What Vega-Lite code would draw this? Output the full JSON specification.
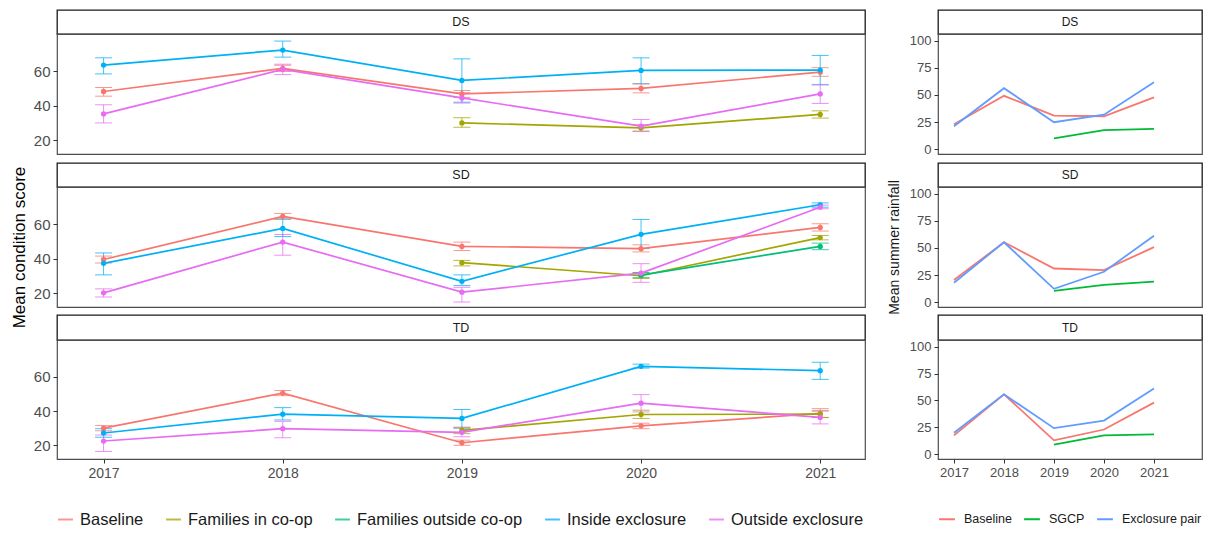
{
  "$schema": "https://vega.github.io/schema/vega-lite/v6.json",
  "padding": {"left": 9, "top": 9, "right": 4, "bottom": 4},
  "background": "#ffffff",
  "datasets": {
    "cond": [
      {"site": "DS", "group": "Baseline", "year": 2017, "mean": 48.2, "lo": 45.5, "hi": 50.5},
      {"site": "DS", "group": "Baseline", "year": 2018, "mean": 61.6, "lo": 59.8, "hi": 63.4},
      {"site": "DS", "group": "Baseline", "year": 2019, "mean": 46.8, "lo": 44.8, "hi": 48.8},
      {"site": "DS", "group": "Baseline", "year": 2020, "mean": 50.0, "lo": 47.4, "hi": 52.6},
      {"site": "DS", "group": "Baseline", "year": 2021, "mean": 59.4, "lo": 57.0, "hi": 62.0},
      {"site": "DS", "group": "Families in co-op", "year": 2019, "mean": 30.0, "lo": 27.5, "hi": 33.0},
      {"site": "DS", "group": "Families in co-op", "year": 2020, "mean": 27.1, "lo": 25.3, "hi": 28.9},
      {"site": "DS", "group": "Families in co-op", "year": 2021, "mean": 34.9, "lo": 32.8, "hi": 37.0},
      {"site": "DS", "group": "Inside exclosure", "year": 2017, "mean": 63.5, "lo": 58.4, "hi": 67.7},
      {"site": "DS", "group": "Inside exclosure", "year": 2018, "mean": 72.2, "lo": 68.1, "hi": 77.4},
      {"site": "DS", "group": "Inside exclosure", "year": 2019, "mean": 54.6, "lo": 42.0, "hi": 67.1},
      {"site": "DS", "group": "Inside exclosure", "year": 2020, "mean": 60.4, "lo": 52.7, "hi": 67.7},
      {"site": "DS", "group": "Inside exclosure", "year": 2021, "mean": 60.6, "lo": 52.0, "hi": 69.1},
      {"site": "DS", "group": "Outside exclosure", "year": 2017, "mean": 35.2, "lo": 30.0, "hi": 40.5},
      {"site": "DS", "group": "Outside exclosure", "year": 2018, "mean": 61.0, "lo": 58.0, "hi": 64.0},
      {"site": "DS", "group": "Outside exclosure", "year": 2019, "mean": 44.5, "lo": 41.5, "hi": 47.5},
      {"site": "DS", "group": "Outside exclosure", "year": 2020, "mean": 28.1, "lo": 25.0, "hi": 32.0},
      {"site": "DS", "group": "Outside exclosure", "year": 2021, "mean": 46.8, "lo": 41.3, "hi": 52.3},
      {"site": "SD", "group": "Baseline", "year": 2017, "mean": 39.5, "lo": 37.5, "hi": 41.5},
      {"site": "SD", "group": "Baseline", "year": 2018, "mean": 64.5, "lo": 62.8, "hi": 66.2},
      {"site": "SD", "group": "Baseline", "year": 2019, "mean": 47.1, "lo": 44.7, "hi": 49.6},
      {"site": "SD", "group": "Baseline", "year": 2020, "mean": 45.8, "lo": 43.9, "hi": 48.0},
      {"site": "SD", "group": "Baseline", "year": 2021, "mean": 58.1, "lo": 56.0, "hi": 60.2},
      {"site": "SD", "group": "Families in co-op", "year": 2019, "mean": 37.7, "lo": 35.8, "hi": 39.0},
      {"site": "SD", "group": "Families in co-op", "year": 2020, "mean": 30.1, "lo": 28.5, "hi": 31.7},
      {"site": "SD", "group": "Families in co-op", "year": 2021, "mean": 52.2, "lo": 50.9, "hi": 53.4},
      {"site": "SD", "group": "Families outside co-op", "year": 2020, "mean": 30.5, "lo": 29.0, "hi": 32.0},
      {"site": "SD", "group": "Families outside co-op", "year": 2021, "mean": 47.1, "lo": 45.2, "hi": 49.0},
      {"site": "SD", "group": "Inside exclosure", "year": 2017, "mean": 37.3, "lo": 30.6, "hi": 43.3},
      {"site": "SD", "group": "Inside exclosure", "year": 2018, "mean": 57.5, "lo": 52.8, "hi": 63.0},
      {"site": "SD", "group": "Inside exclosure", "year": 2019, "mean": 26.9, "lo": 24.4, "hi": 30.6},
      {"site": "SD", "group": "Inside exclosure", "year": 2020, "mean": 54.1, "lo": 45.8, "hi": 62.7},
      {"site": "SD", "group": "Inside exclosure", "year": 2021, "mean": 71.2, "lo": 69.8, "hi": 72.3},
      {"site": "SD", "group": "Outside exclosure", "year": 2017, "mean": 20.2, "lo": 17.8, "hi": 22.5},
      {"site": "SD", "group": "Outside exclosure", "year": 2018, "mean": 49.6, "lo": 42.0, "hi": 54.0},
      {"site": "SD", "group": "Outside exclosure", "year": 2019, "mean": 20.6, "lo": 14.9, "hi": 23.4},
      {"site": "SD", "group": "Outside exclosure", "year": 2020, "mean": 31.6, "lo": 26.3, "hi": 37.1},
      {"site": "SD", "group": "Outside exclosure", "year": 2021, "mean": 69.8, "lo": 68.9, "hi": 71.0},
      {"site": "TD", "group": "Baseline", "year": 2017, "mean": 30.0, "lo": 28.5, "hi": 31.5},
      {"site": "TD", "group": "Baseline", "year": 2018, "mean": 50.5, "lo": 49.0, "hi": 52.0},
      {"site": "TD", "group": "Baseline", "year": 2019, "mean": 21.5, "lo": 20.0, "hi": 23.0},
      {"site": "TD", "group": "Baseline", "year": 2020, "mean": 31.4, "lo": 29.7, "hi": 32.9},
      {"site": "TD", "group": "Baseline", "year": 2021, "mean": 38.6, "lo": 36.3, "hi": 41.4},
      {"site": "TD", "group": "Families in co-op", "year": 2019, "mean": 28.7, "lo": 26.8, "hi": 30.6},
      {"site": "TD", "group": "Families in co-op", "year": 2020, "mean": 38.0, "lo": 35.7, "hi": 40.5},
      {"site": "TD", "group": "Families in co-op", "year": 2021, "mean": 38.2, "lo": 36.2, "hi": 40.2},
      {"site": "TD", "group": "Inside exclosure", "year": 2017, "mean": 27.2, "lo": 24.7, "hi": 29.7},
      {"site": "TD", "group": "Inside exclosure", "year": 2018, "mean": 38.2, "lo": 34.8, "hi": 42.0},
      {"site": "TD", "group": "Inside exclosure", "year": 2019, "mean": 35.7, "lo": 30.0, "hi": 40.9},
      {"site": "TD", "group": "Inside exclosure", "year": 2020, "mean": 66.1, "lo": 65.1, "hi": 67.4},
      {"site": "TD", "group": "Inside exclosure", "year": 2021, "mean": 63.6, "lo": 58.5, "hi": 68.5},
      {"site": "TD", "group": "Outside exclosure", "year": 2017, "mean": 22.5, "lo": 16.4, "hi": 26.0},
      {"site": "TD", "group": "Outside exclosure", "year": 2018, "mean": 29.7, "lo": 24.4, "hi": 34.0},
      {"site": "TD", "group": "Outside exclosure", "year": 2019, "mean": 27.6, "lo": 25.0, "hi": 30.2},
      {"site": "TD", "group": "Outside exclosure", "year": 2020, "mean": 44.6, "lo": 39.5, "hi": 49.6},
      {"site": "TD", "group": "Outside exclosure", "year": 2021, "mean": 36.3, "lo": 32.5, "hi": 40.0}
    ],
    "rain": [
      {"site": "DS", "group": "Baseline", "year": 2017, "value": 23.0},
      {"site": "DS", "group": "Baseline", "year": 2018, "value": 49.2},
      {"site": "DS", "group": "Baseline", "year": 2019, "value": 30.9},
      {"site": "DS", "group": "Baseline", "year": 2020, "value": 30.3},
      {"site": "DS", "group": "Baseline", "year": 2021, "value": 47.7},
      {"site": "DS", "group": "SGCP", "year": 2019, "value": 9.8},
      {"site": "DS", "group": "SGCP", "year": 2020, "value": 17.4},
      {"site": "DS", "group": "SGCP", "year": 2021, "value": 18.7},
      {"site": "DS", "group": "Exclosure pair", "year": 2017, "value": 21.1},
      {"site": "DS", "group": "Exclosure pair", "year": 2018, "value": 56.3},
      {"site": "DS", "group": "Exclosure pair", "year": 2019, "value": 24.8},
      {"site": "DS", "group": "Exclosure pair", "year": 2020, "value": 31.8},
      {"site": "DS", "group": "Exclosure pair", "year": 2021, "value": 61.8},
      {"site": "SD", "group": "Baseline", "year": 2017, "value": 20.4},
      {"site": "SD", "group": "Baseline", "year": 2018, "value": 55.3},
      {"site": "SD", "group": "Baseline", "year": 2019, "value": 31.0},
      {"site": "SD", "group": "Baseline", "year": 2020, "value": 29.5},
      {"site": "SD", "group": "Baseline", "year": 2021, "value": 50.8},
      {"site": "SD", "group": "SGCP", "year": 2019, "value": 10.3},
      {"site": "SD", "group": "SGCP", "year": 2020, "value": 15.8},
      {"site": "SD", "group": "SGCP", "year": 2021, "value": 18.8},
      {"site": "SD", "group": "Exclosure pair", "year": 2017, "value": 17.9},
      {"site": "SD", "group": "Exclosure pair", "year": 2018, "value": 55.3},
      {"site": "SD", "group": "Exclosure pair", "year": 2019, "value": 12.2},
      {"site": "SD", "group": "Exclosure pair", "year": 2020, "value": 28.0},
      {"site": "SD", "group": "Exclosure pair", "year": 2021, "value": 61.4},
      {"site": "TD", "group": "Baseline", "year": 2017, "value": 17.4},
      {"site": "TD", "group": "Baseline", "year": 2018, "value": 55.7},
      {"site": "TD", "group": "Baseline", "year": 2019, "value": 12.8},
      {"site": "TD", "group": "Baseline", "year": 2020, "value": 22.9},
      {"site": "TD", "group": "Baseline", "year": 2021, "value": 48.0},
      {"site": "TD", "group": "SGCP", "year": 2019, "value": 8.9},
      {"site": "TD", "group": "SGCP", "year": 2020, "value": 17.4},
      {"site": "TD", "group": "SGCP", "year": 2021, "value": 18.3},
      {"site": "TD", "group": "Exclosure pair", "year": 2017, "value": 19.9},
      {"site": "TD", "group": "Exclosure pair", "year": 2018, "value": 55.7},
      {"site": "TD", "group": "Exclosure pair", "year": 2019, "value": 24.2},
      {"site": "TD", "group": "Exclosure pair", "year": 2020, "value": 31.2},
      {"site": "TD", "group": "Exclosure pair", "year": 2021, "value": 61.2}
    ]
  },
  "hconcat": [
    {
      "spacing": 0,
      "bounds": "flush",
      "resolve": {"scale": {"x": "independent", "y": "independent"}},
      "vconcat": [
        {"width": 808, "height": 24, "data": {"values": [{"site": "DS"}]}, "view": {"stroke": "#1a1a1a", "strokeWidth": 1.3, "fill": "#ffffff"},
         "mark": {"type": "text", "fontSize": 12.5, "color": "#1a1a1a"}, "encoding": {"text": {"field": "site", "type": "nominal"}}},
        {"width": 808, "height": 120, "data": {"name": "cond"}, "transform": [{"filter": "datum.site === 'DS'"}],
         "view": {"stroke": "#4d4d4d", "strokeWidth": 1.2},
         "encoding": {
           "x": {"field": "year", "type": "quantitative", "scale": {"domain": [2016.74, 2021.25], "nice": false, "zero": false}, "axis": null},
           "color": {"field": "group", "type": "nominal", "scale": {"domain": ["Baseline", "Families in co-op", "Families outside co-op", "Inside exclosure", "Outside exclosure"], "range": ["#F8766D", "#A3A500", "#00BF7D", "#00B0F6", "#E76BF3"]},
                     "legend": {"orient": "bottom", "direction": "horizontal", "title": null, "labelFontSize": 16.5, "labelLimit": 400, "labelColor": "#1a1a1a", "symbolType": "stroke", "symbolSize": 220, "symbolStrokeWidth": 2, "columnPadding": 18, "labelOffset": 6, "offset": 30}}
         },
         "layer": [
           {"mark": {"type": "errorbar", "ticks": {"size": 17}, "thickness": 1, "opacity": 0.75},
            "encoding": {"y": {"field": "lo", "type": "quantitative", "scale": {"domain": [12, 81.5], "nice": false, "zero": false}, "axis": {"values": [20, 40, 60], "labelFontSize": 15, "title": null}}, "y2": {"field": "hi"}}},
           {"mark": {"type": "line", "strokeWidth": 1.7}, "encoding": {"y": {"field": "mean", "type": "quantitative", "axis": {"values": [20, 40, 60], "labelFontSize": 15, "title": null}}}},
           {"mark": {"type": "point", "filled": true, "size": 28, "opacity": 1}, "encoding": {"y": {"field": "mean", "type": "quantitative", "axis": {"values": [20, 40, 60], "labelFontSize": 15, "title": null}}}}
         ]},
        {"width": 808, "height": 9, "data": {"values": [{"g": ""}]}, "mark": {"type": "text"}, "encoding": {"text": {"field": "g", "type": "nominal"}}},
        {"width": 808, "height": 24, "data": {"values": [{"site": "SD"}]}, "view": {"stroke": "#1a1a1a", "strokeWidth": 1.3, "fill": "#ffffff"},
         "mark": {"type": "text", "fontSize": 12.5, "color": "#1a1a1a"}, "encoding": {"text": {"field": "site", "type": "nominal"}}},
        {"width": 808, "height": 120, "data": {"name": "cond"}, "transform": [{"filter": "datum.site === 'SD'"}],
         "view": {"stroke": "#4d4d4d", "strokeWidth": 1.2},
         "encoding": {
           "x": {"field": "year", "type": "quantitative", "scale": {"domain": [2016.74, 2021.25], "nice": false, "zero": false}, "axis": null},
           "color": {"field": "group", "type": "nominal", "scale": {"domain": ["Baseline", "Families in co-op", "Families outside co-op", "Inside exclosure", "Outside exclosure"], "range": ["#F8766D", "#A3A500", "#00BF7D", "#00B0F6", "#E76BF3"]},
                     "legend": {"orient": "bottom", "direction": "horizontal", "title": null, "labelFontSize": 16.5, "labelLimit": 400, "labelColor": "#1a1a1a", "symbolType": "stroke", "symbolSize": 220, "symbolStrokeWidth": 2, "columnPadding": 18, "labelOffset": 6, "offset": 30}}
         },
         "layer": [
           {"mark": {"type": "errorbar", "ticks": {"size": 17}, "thickness": 1, "opacity": 0.75},
            "encoding": {"y": {"field": "lo", "type": "quantitative", "scale": {"domain": [12, 81.5], "nice": false, "zero": false}, "axis": {"values": [20, 40, 60], "labelFontSize": 15, "title": "Mean condition score", "titleFontSize": 17, "titlePadding": 5}}, "y2": {"field": "hi"}}},
           {"mark": {"type": "line", "strokeWidth": 1.7}, "encoding": {"y": {"field": "mean", "type": "quantitative", "axis": {"values": [20, 40, 60], "labelFontSize": 15, "title": "Mean condition score", "titleFontSize": 17, "titlePadding": 5}}}},
           {"mark": {"type": "point", "filled": true, "size": 28, "opacity": 1}, "encoding": {"y": {"field": "mean", "type": "quantitative", "axis": {"values": [20, 40, 60], "labelFontSize": 15, "title": "Mean condition score", "titleFontSize": 17, "titlePadding": 5}}}}
         ]},
        {"width": 808, "height": 8, "data": {"values": [{"g": ""}]}, "mark": {"type": "text"}, "encoding": {"text": {"field": "g", "type": "nominal"}}},
        {"width": 808, "height": 25, "data": {"values": [{"site": "TD"}]}, "view": {"stroke": "#1a1a1a", "strokeWidth": 1.3, "fill": "#ffffff"},
         "mark": {"type": "text", "fontSize": 12.5, "color": "#1a1a1a"}, "encoding": {"text": {"field": "site", "type": "nominal"}}},
        {"width": 808, "height": 119, "data": {"name": "cond"}, "transform": [{"filter": "datum.site === 'TD'"}],
         "view": {"stroke": "#4d4d4d", "strokeWidth": 1.2},
         "encoding": {
           "x": {"field": "year", "type": "quantitative", "scale": {"domain": [2016.74, 2021.25], "nice": false, "zero": false}, "axis": {"values": [2017, 2018, 2019, 2020, 2021], "format": "d", "labelFontSize": 14, "title": null}},
           "color": {"field": "group", "type": "nominal", "scale": {"domain": ["Baseline", "Families in co-op", "Families outside co-op", "Inside exclosure", "Outside exclosure"], "range": ["#F8766D", "#A3A500", "#00BF7D", "#00B0F6", "#E76BF3"]},
                     "legend": {"orient": "bottom", "direction": "horizontal", "title": null, "labelFontSize": 16.5, "labelLimit": 400, "labelColor": "#1a1a1a", "symbolType": "stroke", "symbolSize": 220, "symbolStrokeWidth": 2, "columnPadding": 18, "labelOffset": 6, "offset": 30}}
         },
         "layer": [
           {"mark": {"type": "errorbar", "ticks": {"size": 17}, "thickness": 1, "opacity": 0.75},
            "encoding": {"y": {"field": "lo", "type": "quantitative", "scale": {"domain": [12, 81.5], "nice": false, "zero": false}, "axis": {"values": [20, 40, 60], "labelFontSize": 15, "title": null}}, "y2": {"field": "hi"}}},
           {"mark": {"type": "line", "strokeWidth": 1.7}, "encoding": {"y": {"field": "mean", "type": "quantitative", "axis": {"values": [20, 40, 60], "labelFontSize": 15, "title": null}}}},
           {"mark": {"type": "point", "filled": true, "size": 28, "opacity": 1}, "encoding": {"y": {"field": "mean", "type": "quantitative", "axis": {"values": [20, 40, 60], "labelFontSize": 15, "title": null}}}}
         ]}
      ]
    },
    {
      "spacing": 0,
      "bounds": "flush",
      "resolve": {"scale": {"x": "independent", "y": "independent"}},
      "vconcat": [
        {"width": 264, "height": 24, "data": {"values": [{"site": "DS"}]}, "view": {"stroke": "#1a1a1a", "strokeWidth": 1.3, "fill": "#ffffff"},
         "mark": {"type": "text", "fontSize": 12, "color": "#1a1a1a"}, "encoding": {"text": {"field": "site", "type": "nominal"}}},
        {"width": 264, "height": 120, "data": {"name": "rain"}, "transform": [{"filter": "datum.site === 'DS'"}],
         "view": {"stroke": "#4d4d4d", "strokeWidth": 1.2},
         "mark": {"type": "line", "strokeWidth": 1.8},
         "encoding": {
           "x": {"field": "year", "type": "quantitative", "scale": {"domain": [2016.68, 2021.96], "nice": false, "zero": false}, "axis": null},
           "y": {"field": "value", "type": "quantitative", "scale": {"domain": [-4.6, 106.4], "nice": false, "zero": false}, "axis": {"values": [0, 25, 50, 75, 100], "labelFontSize": 13, "title": null}},
           "color": {"field": "group", "type": "nominal", "scale": {"domain": ["Baseline", "SGCP", "Exclosure pair"], "range": ["#F8766D", "#00BA38", "#619CFF"]},
                     "legend": {"orient": "bottom", "direction": "horizontal", "title": null, "labelFontSize": 12.5, "labelLimit": 200, "labelColor": "#1a1a1a", "symbolType": "stroke", "symbolSize": 250, "symbolStrokeWidth": 2, "columnPadding": 8, "labelOffset": 8, "offset": 30}}
         }},
        {"width": 264, "height": 9, "data": {"values": [{"g": ""}]}, "mark": {"type": "text"}, "encoding": {"text": {"field": "g", "type": "nominal"}}},
        {"width": 264, "height": 24, "data": {"values": [{"site": "SD"}]}, "view": {"stroke": "#1a1a1a", "strokeWidth": 1.3, "fill": "#ffffff"},
         "mark": {"type": "text", "fontSize": 12, "color": "#1a1a1a"}, "encoding": {"text": {"field": "site", "type": "nominal"}}},
        {"width": 264, "height": 120, "data": {"name": "rain"}, "transform": [{"filter": "datum.site === 'SD'"}],
         "view": {"stroke": "#4d4d4d", "strokeWidth": 1.2},
         "mark": {"type": "line", "strokeWidth": 1.8},
         "encoding": {
           "x": {"field": "year", "type": "quantitative", "scale": {"domain": [2016.68, 2021.96], "nice": false, "zero": false}, "axis": null},
           "y": {"field": "value", "type": "quantitative", "scale": {"domain": [-4.6, 106.4], "nice": false, "zero": false}, "axis": {"values": [0, 25, 50, 75, 100], "labelFontSize": 13, "title": "Mean summer rainfall", "titleFontSize": 14, "titlePadding": 8, "titleColor": "#1a1a1a"}},
           "color": {"field": "group", "type": "nominal", "scale": {"domain": ["Baseline", "SGCP", "Exclosure pair"], "range": ["#F8766D", "#00BA38", "#619CFF"]},
                     "legend": {"orient": "bottom", "direction": "horizontal", "title": null, "labelFontSize": 12.5, "labelLimit": 200, "labelColor": "#1a1a1a", "symbolType": "stroke", "symbolSize": 250, "symbolStrokeWidth": 2, "columnPadding": 8, "labelOffset": 8, "offset": 30}}
         }},
        {"width": 264, "height": 8, "data": {"values": [{"g": ""}]}, "mark": {"type": "text"}, "encoding": {"text": {"field": "g", "type": "nominal"}}},
        {"width": 264, "height": 25, "data": {"values": [{"site": "TD"}]}, "view": {"stroke": "#1a1a1a", "strokeWidth": 1.3, "fill": "#ffffff"},
         "mark": {"type": "text", "fontSize": 12, "color": "#1a1a1a"}, "encoding": {"text": {"field": "site", "type": "nominal"}}},
        {"width": 264, "height": 119, "data": {"name": "rain"}, "transform": [{"filter": "datum.site === 'TD'"}],
         "view": {"stroke": "#4d4d4d", "strokeWidth": 1.2},
         "mark": {"type": "line", "strokeWidth": 1.8},
         "encoding": {
           "x": {"field": "year", "type": "quantitative", "scale": {"domain": [2016.68, 2021.96], "nice": false, "zero": false}, "axis": {"values": [2017, 2018, 2019, 2020, 2021], "format": "d", "labelFontSize": 13, "title": null}},
           "y": {"field": "value", "type": "quantitative", "scale": {"domain": [-4.6, 106.4], "nice": false, "zero": false}, "axis": {"values": [0, 25, 50, 75, 100], "labelFontSize": 13, "title": null}},
           "color": {"field": "group", "type": "nominal", "scale": {"domain": ["Baseline", "SGCP", "Exclosure pair"], "range": ["#F8766D", "#00BA38", "#619CFF"]},
                     "legend": {"orient": "bottom", "direction": "horizontal", "title": null, "labelFontSize": 12.5, "labelLimit": 200, "labelColor": "#1a1a1a", "symbolType": "stroke", "symbolSize": 250, "symbolStrokeWidth": 2, "columnPadding": 8, "labelOffset": 8, "offset": 30}}
         }}
      ]
    }
  ],
  "spacing": 20,
  "resolve": {"scale": {"color": "independent"}, "legend": {"color": "independent"}},
  "config": {
    "font": "Liberation Sans",
    "view": {"stroke": null},
    "axis": {"grid": false, "domain": false, "tickColor": "#333333", "tickSize": 4, "labelPadding": 3, "labelColor": "#4d4d4d", "titleFontWeight": "normal", "titleColor": "#000000"},
    "legend": {"labelFont": "Liberation Sans"}
  }
}
